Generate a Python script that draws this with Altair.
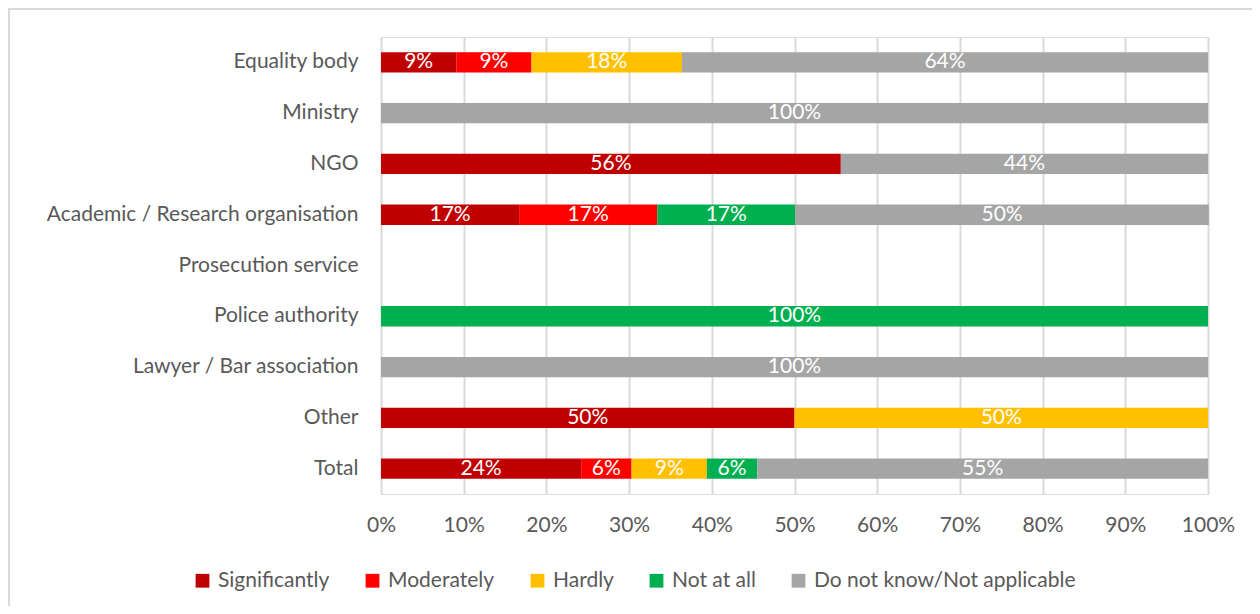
import altair as alt
import pandas as pd

categories = ["Equality body", "Ministry", "NGO", "Academic / Research organisation",
              "Prosecution service", "Police authority", "Lawyer / Bar association",
              "Other", "Total"]
series = ["Significantly", "Moderately", "Hardly", "Not at all", "Do not know/Not applicable"]
colors = ["#C00000", "#FF0000", "#FFC000", "#00B050", "#A5A5A5"]

significantly = [9.1, 0, 55.6, 16.7, 0, 0, 0, 50, 24.2]
moderately    = [9.1, 0, 0, 16.7, 0, 0, 0, 0, 6.1]
hardly        = [18.2, 0, 0, 0, 0, 0, 0, 50, 9.1]
not_at_all    = [0, 0, 0, 16.7, 0, 100, 0, 0, 6.1]
do_not_know   = [63.6, 100, 44.4, 50, 0, 0, 100, 0, 54.5]

x_ticks = [0, 10, 20, 30, 40, 50, 60, 70, 80, 90, 100]

rows = []
for si, (s, vals) in enumerate(zip(series, [significantly, moderately, hardly, not_at_all, do_not_know])):
    for c, v in zip(categories, vals):
        if v > 0:
            rows.append({"category": c, "series": s, "order": si, "value": v})
df = pd.DataFrame(rows)

FONT = "Lato"
FS = 21
GRAY = "#595959"

base = alt.Chart(df).transform_stack(
    stack="value", groupby=["category"], as_=["x0", "x1"],
    sort=[alt.SortField("order", order="ascending")]
).transform_calculate(mid="(datum.x0 + datum.x1) / 2",
                      lbl="format(datum.value, '.0f') + '%'")

yenc = alt.Y("category:N", sort=categories,
             scale=alt.Scale(domain=categories, paddingInner=0.6, paddingOuter=0.3),
             axis=alt.Axis(title=None, domain=False, ticks=False, labelPadding=23, labelLimit=0,
                           labelFontSize=FS, labelColor=GRAY, labelFont=FONT, grid=False))

bars = base.mark_bar().encode(
    x=alt.X("x0:Q", scale=alt.Scale(domain=[0, 100], nice=False),
            axis=alt.Axis(title=None, values=x_ticks, labelExpr="datum.value + '%'",
                          labelFlush=False, labelOverlap=False,
                          domain=False, ticks=False, grid=True, gridColor="#D9D9D9", gridWidth=2,
                          labelFontSize=FS, labelColor=GRAY, labelFont=FONT, labelPadding=20)),
    x2="x1:Q",
    y=yenc,
    color=alt.Color("series:N", scale=alt.Scale(domain=series, range=colors),
                    legend=alt.Legend(title=None, orient="none", direction="horizontal",
                                      legendX=-189, legendY=533, symbolType="square",
                                      symbolSize=190, symbolStrokeWidth=0, labelFontSize=FS,
                                      labelColor=GRAY, labelFont=FONT, labelOffset=5,
                                      labelLimit=0, columnPadding=32, columns=5)),
    order=alt.Order("order:Q"),
)

labels = base.mark_text(color="white", fontSize=FS, font=FONT).encode(
    x=alt.X("mid:Q"),
    y=alt.Y("category:N", sort=categories),
    text=alt.Text("lbl:N"),
)

frame = alt.Chart(pd.DataFrame({"a": [0]})).mark_rect(
    fill=None, stroke="#D9D9D9", strokeWidth=2
).encode(x=alt.value(-372), x2=alt.value(900), y=alt.value(-28), y2=alt.value(600))

chart = alt.layer(frame, bars, labels).properties(
    width=827, height=457,
    autosize=alt.AutoSizeParams(type="none"),
    padding={"left": 373, "top": 29, "right": 44, "bottom": 112},
).configure_view(stroke=None).configure(background="white")

chart.save("out.html", embed_options={"renderer": "svg", "actions": False})
